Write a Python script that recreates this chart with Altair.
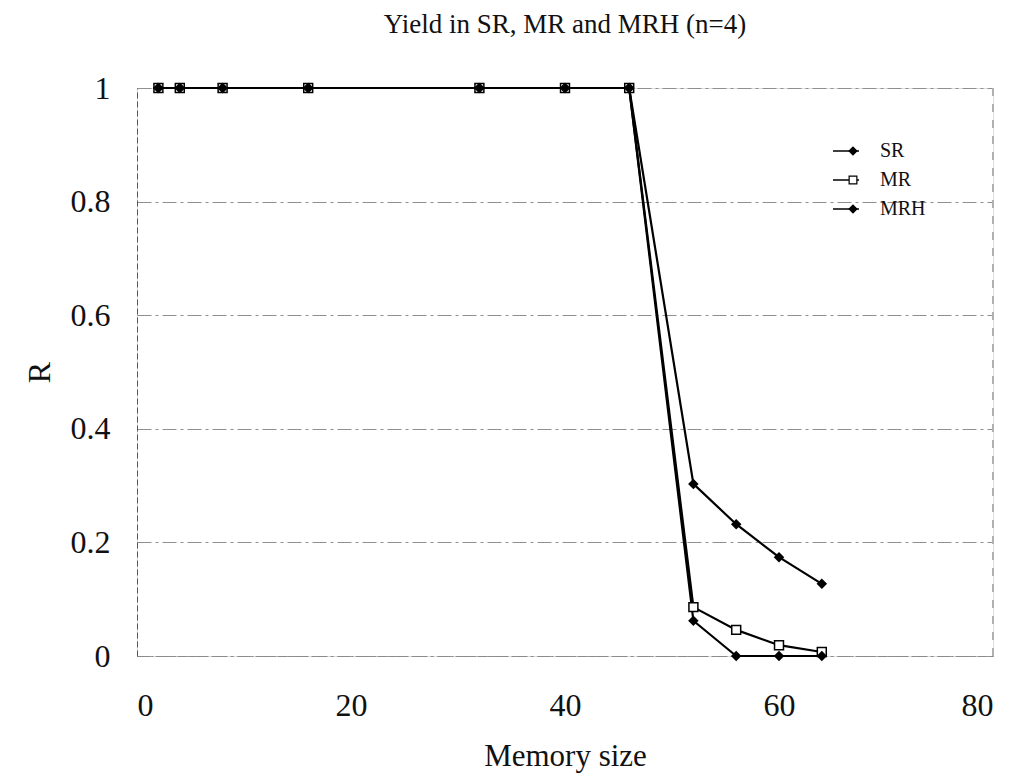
import altair as alt
import pandas as pd

memory = [2, 4, 8, 16, 32, 40, 46, 52, 56, 60, 64]
sr = [1, 1, 1, 1, 1, 1, 1, 0.303, 0.232, 0.174, 0.127]
mr = [1, 1, 1, 1, 1, 1, 1, 0.086, 0.046, 0.019, 0.007]
mrh = [1, 1, 1, 1, 1, 1, 1, 0.062, 0.0, 0.0, 0.0]
series_names = ["SR", "MR", "MRH"]
x_ticks = [0, 20, 40, 60, 80]
y_ticks = [0, 0.2, 0.4, 0.6, 0.8, 1]

rows = []
for name, vals in zip(series_names, [sr, mr, mrh]):
    for m, v in zip(memory, vals):
        rows.append({"series": name, "memory": m, "R": v})
df = pd.DataFrame(rows)

FONT = "Liberation Serif"

x_enc = alt.X("memory:Q", scale=alt.Scale(domain=[0, 80]),
              axis=alt.Axis(values=x_ticks, title="Memory size", grid=False,
                            ticks=False, domainColor="#8a8a8a", domainDash=[10, 4, 2, 4],
                            labelFont=FONT, labelFontSize=32, labelColor="#111",
                            labelPadding=34, titleFont=FONT, titleFontSize=31,
                            titleFontWeight="normal", titleColor="#111", titlePadding=20))
y_enc = alt.Y("R:Q", scale=alt.Scale(domain=[0, 1]),
              axis=alt.Axis(values=y_ticks, title="R", grid=True, labelExpr="format(datum.value, '~g')",
                            gridColor="#8f8f8f", gridDash=[14, 4, 3, 4], gridWidth=1,
                            ticks=False, domainColor="#555", domainDash=[6, 3],
                            labelFont=FONT, labelFontSize=32, labelColor="#111",
                            labelPadding=27, titleFont=FONT, titleFontSize=32,
                            titleFontWeight="normal", titleColor="#111", titlePadding=14))

base = alt.Chart(df)
right_edge = base.mark_rule(color="#b0b0b0", strokeDash=[8, 8], strokeWidth=1).encode(
    x=alt.value(856), y=alt.value(0), y2=alt.value(568))
lines = base.mark_line(color="black", strokeWidth=2.2).encode(
    x=x_enc, y=y_enc, detail="series:N")

mr_pts = base.transform_filter(alt.datum.series == "MR").mark_point(
    shape="square", filled=True, fill="white", stroke="black", strokeWidth=1.5, size=80, opacity=1).encode(x="memory:Q", y="R:Q")
sr_pts = base.transform_filter(alt.datum.series == "SR").mark_point(
    shape="diamond", filled=True, color="black", size=110, opacity=1).encode(x="memory:Q", y="R:Q")
mrh_pts = base.transform_filter(alt.datum.series == "MRH").mark_point(
    shape="diamond", filled=True, color="black", size=110, opacity=1).encode(x="memory:Q", y="R:Q")

legend_layers = []
leg_y = [63, 92, 121]
leg_shape = ["diamond", "square", "diamond"]
leg_fill = ["black", "white", "black"]
for name, yy, shp, fl in zip(series_names, leg_y, leg_shape, leg_fill):
    ldf = pd.DataFrame({"series": [name]})
    lc = alt.Chart(ldf)
    legend_layers.append(lc.mark_rule(color="black", strokeWidth=1.5).encode(
        x=alt.value(696), x2=alt.value(722), y=alt.value(yy)))
    legend_layers.append(lc.mark_point(shape=shp, filled=True, fill=fl, stroke="black",
                                       strokeWidth=1.2, size=60, opacity=1).encode(
        x=alt.value(716), y=alt.value(yy)))
    legend_layers.append(lc.mark_text(align="left", baseline="middle", font=FONT,
                                      fontSize=20, color="#111").encode(
        x=alt.value(743), y=alt.value(yy), text="series:N"))

chart = alt.layer(right_edge, lines, mr_pts, sr_pts, mrh_pts, *legend_layers).properties(
    width=856, height=568,
    title=alt.TitleParams("Yield in SR, MR and MRH (n=4)", font=FONT, fontSize=27,
                          fontWeight="normal", color="#111", offset=33, anchor="middle"),
    padding={"left": 137, "top": 88, "right": 24, "bottom": 127},
    autosize="none",
).configure_view(stroke=None).configure(background="white")

chart.save("out.html", embed_options={"renderer": "svg", "actions": False})
